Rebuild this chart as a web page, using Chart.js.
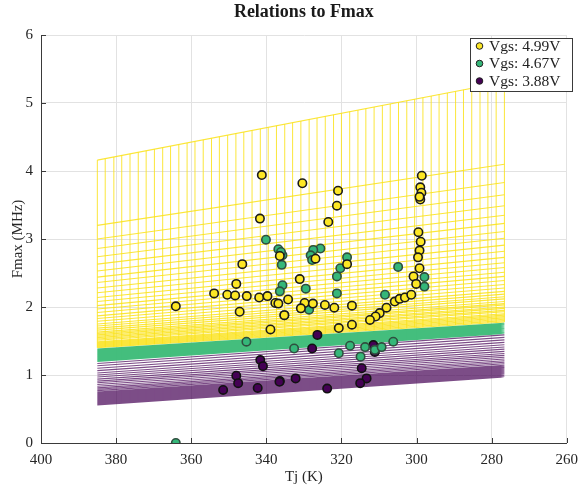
<!DOCTYPE html>
<html>
<head>
<meta charset="utf-8">
<script src="https://cdn.jsdelivr.net/npm/chart.js@4.4.1/dist/chart.umd.min.js"></script>
<style>
  html, body { margin: 0; padding: 0; background: #fff; }
  #wrap { width: 586px; height: 488px; }
</style>
</head>
<body>
<div id="wrap"><canvas id="c" width="586" height="488"></canvas></div>
<script>
// Axis ticks
const xTicks = [400, 380, 360, 340, 320, 300, 280, 260];
const yTicks = [0, 1, 2, 3, 4, 5, 6];

// Mesh columns (Tj, K)
const meshTj = [385.0, 382.9, 380.6, 378.5, 376.3, 374.1, 372.0, 369.8, 367.6, 365.5,
  363.3, 361.1, 359.0, 356.8, 354.6, 352.5, 350.3, 348.1, 346.0, 343.8,
  341.6, 339.5, 337.3, 335.1, 333.0, 330.8, 328.6, 326.5, 324.3, 322.1,
  320.0, 317.8, 315.6, 313.5, 311.3, 309.1, 307.0, 304.8, 302.6, 300.5,
  298.3, 296.1, 294.0, 291.8, 289.6, 287.5, 285.3, 283.1, 281.0, 278.8, 276.6];

// Mesh rows: Fmax (MHz) at the first and last column
const yellowRowStart = [4.16, 3.20, 3.00, 2.86, 2.74, 2.63, 2.53, 2.44, 2.36, 2.28, 2.21, 2.14,
  2.08, 2.02, 1.97, 1.92, 1.87, 1.83, 1.79, 1.75, 1.72, 1.69, 1.66, 1.63, 1.61, 1.59,
  1.57, 1.55, 1.53, 1.51, 1.49, 1.475, 1.46, 1.445, 1.43, 1.415, 1.40];
const yellowRowEnd = [5.31, 4.10, 3.83, 3.65, 3.49, 3.35, 3.23, 3.11, 3.01, 2.91, 2.82, 2.73,
  2.65, 2.58, 2.51, 2.45, 2.39, 2.33, 2.28, 2.23, 2.19, 2.15, 2.12, 2.08, 2.05, 2.03,
  2.00, 1.98, 1.95, 1.93, 1.90, 1.88, 1.86, 1.84, 1.82, 1.80, 1.78];
const greenRowStart = [1.20, 1.21, 1.22, 1.23, 1.24, 1.25, 1.26, 1.27, 1.28, 1.29, 1.30,
  1.31, 1.32, 1.33, 1.34, 1.35, 1.36, 1.37, 1.38];
const greenRowEnd = [1.61, 1.618, 1.627, 1.635, 1.643, 1.652, 1.66, 1.668, 1.677, 1.685, 1.693,
  1.702, 1.71, 1.718, 1.727, 1.735, 1.743, 1.752, 1.76];
const purpleRowStart = [1.17, 1.135, 1.10, 1.065, 1.03, 1.00, 0.97, 0.94, 0.91, 0.885, 0.86,
  0.835, 0.81, 0.79, 0.77, 0.75, 0.735, 0.72, 0.705, 0.69, 0.675, 0.66, 0.648, 0.636,
  0.624, 0.612, 0.60, 0.59, 0.58, 0.57, 0.56];
const purpleRowEnd = [1.59, 1.553, 1.517, 1.48, 1.445, 1.412, 1.38, 1.348, 1.316, 1.288, 1.26,
  1.235, 1.21, 1.188, 1.166, 1.144, 1.128, 1.112, 1.096, 1.08, 1.064, 1.048, 1.036, 1.024,
  1.012, 1.00, 0.99, 0.985, 0.98, 0.975, 0.97];

// Measured points: Vgs = 4.99 V
const tj499 = [341.2, 341.7, 336.4, 346.4, 348.0, 353.9, 350.4, 348.3, 345.2, 341.9, 339.7, 364.1,
  347.1, 337.6, 338.9, 330.4, 320.9, 321.2, 323.5, 298.6, 299.0, 298.7, 299.0, 299.2, 299.5,
  298.9, 299.2, 299.6, 326.9, 318.5, 331.1, 334.2, 329.8, 327.6, 330.8, 324.4, 321.9, 317.2,
  335.2, 336.8, 300.8, 300.1, 299.2, 305.8, 304.5, 303.1, 301.4, 308.0, 309.8, 310.9, 312.4,
  320.7, 317.2];
const f499 = [3.94, 3.30, 2.75, 2.63, 2.34, 2.20, 2.18, 2.17, 2.16, 2.14, 2.16, 2.01,
  1.93, 2.06, 1.67, 3.82, 3.71, 3.49, 3.25, 3.93, 3.76, 3.68, 3.58, 3.62, 3.10,
  2.96, 2.83, 2.73, 2.71, 2.63, 2.41, 2.11, 2.06, 2.05, 1.98, 2.03, 1.99, 2.02,
  1.88, 2.05, 2.45, 2.34, 2.57, 2.08, 2.12, 2.14, 2.18, 1.99, 1.91, 1.86, 1.81,
  1.69, 1.74];

// Measured points: Vgs = 4.67 V
const tj467 = [340.1, 336.8, 335.7, 335.9, 335.7, 336.4, 335.2, 345.3, 325.6, 327.5, 328.2, 318.5,
  336.1, 327.8, 320.3, 321.2, 329.5, 321.2, 328.6, 304.9, 297.9, 297.9, 308.4, 332.6, 320.7,
  317.7, 313.7, 311.1, 309.3, 314.9, 306.2, 364.1];
const f467 = [2.99, 2.85, 2.76, 2.62, 2.32, 2.23, 1.88, 1.49, 2.86, 2.84, 2.76, 2.73,
  2.81, 2.69, 2.57, 2.45, 2.27, 2.20, 1.96, 2.59, 2.44, 2.30, 2.18, 1.39, 1.32,
  1.43, 1.41, 1.37, 1.41, 1.27, 1.49, 0.0];

// Measured points: Vgs = 3.88 V
const tj388 = [341.6, 340.9, 348.0, 347.5, 351.5, 342.3, 336.4, 326.4, 327.8, 311.5, 311.1, 314.6,
  313.3, 315.0, 323.8, 332.2, 336.5];
const f388 = [1.22, 1.13, 0.99, 0.88, 0.78, 0.81, 0.91, 1.59, 1.39, 1.44, 1.34, 1.10,
  0.95, 0.88, 0.80, 0.95, 0.90];

const seriesLabels = ['Vgs: 4.99V', 'Vgs: 4.67V', 'Vgs: 3.88V'];
const seriesColors = ['#FDE725', '#35B779', '#440154'];

const FONT = '"Liberation Serif", "DejaVu Serif", serif';

function lineSet(pts, color, width) {
  return {
    type: 'line', data: pts, showLine: true, spanGaps: false, pointRadius: 0,
    borderColor: color, borderWidth: width, tension: 0, order: 10, mesh: true,
    pointHitRadius: 0
  };
}

// A mesh is drawn as two line datasets: its rows and its columns (nulls split the segments)
function meshDatasets(rowStart, rowEnd, rowColor, colColor) {
  const t0 = meshTj[0], t1 = meshTj[meshTj.length - 1];
  const rows = [];
  for (let i = 0; i < rowStart.length; i++) {
    rows.push({x: t0, y: rowStart[i]}, {x: t1, y: rowEnd[i]}, {x: t1, y: null});
  }
  const rowAt = (i, t) => rowStart[i] + (rowEnd[i] - rowStart[i]) * (t - t0) / (t1 - t0);
  let lo = 0, hi = 0;
  for (let i = 0; i < rowStart.length; i++) {
    if (rowStart[i] < rowStart[lo]) lo = i;
    if (rowStart[i] > rowStart[hi]) hi = i;
  }
  const cols = [];
  meshTj.forEach(t => {
    cols.push({x: t, y: rowAt(lo, t)}, {x: t, y: rowAt(hi, t)}, {x: t, y: null});
  });
  return [lineSet(rows, rowColor, 1.1), lineSet(cols, colColor, 1)];
}

function points(tj, f) { return tj.map((t, i) => ({x: t, y: f[i]})); }

function scatterDataset(k, tj, f, edge) {
  return {
    type: 'scatter', label: seriesLabels[k], data: points(tj, f),
    backgroundColor: seriesColors[k], borderColor: edge, borderWidth: 1.6,
    pointRadius: 4.2, pointHoverRadius: 4.2, order: 1
  };
}

// Inward tick marks on the left and bottom axes
const innerTicks = {
  id: 'innerTicks',
  afterDatasetsDraw(chart) {
    const {ctx, chartArea: a, scales: {x, y}} = chart;
    ctx.save();
    ctx.strokeStyle = '#3a3a3a';
    ctx.lineWidth = 1;
    ctx.beginPath();
    xTicks.forEach(v => {
      const px = Math.round(x.getPixelForValue(v)) + 0.5;
      ctx.moveTo(px, a.bottom); ctx.lineTo(px, a.bottom - 5);
    });
    yTicks.forEach(v => {
      const py = Math.round(y.getPixelForValue(v)) + 0.5;
      ctx.moveTo(a.left, py); ctx.lineTo(a.left + 5, py);
    });
    ctx.stroke();
    ctx.restore();
  }
};

// Boxed legend in the upper right corner of the plot
const boxLegend = {
  id: 'boxLegend',
  afterDraw(chart) {
    const {ctx} = chart;
    const sets = chart.data.datasets.filter(d => !d.mesh);
    const bx = 470.5, by = 38.5, bw = 102, bh = 53;
    ctx.save();
    ctx.fillStyle = '#fff';
    ctx.fillRect(bx, by, bw, bh);
    ctx.strokeStyle = '#3a3a3a';
    ctx.lineWidth = 1;
    ctx.strokeRect(bx, by, bw, bh);
    ctx.font = '15.5px ' + FONT;
    ctx.textBaseline = 'middle';
    ctx.textAlign = 'left';
    sets.forEach((d, i) => {
      const cy = 46 + i * 17.5;
      ctx.beginPath();
      ctx.arc(479.5, cy, 3.3, 0, Math.PI * 2);
      ctx.fillStyle = d.backgroundColor;
      ctx.fill();
      ctx.strokeStyle = '#222';
      ctx.lineWidth = 1;
      ctx.stroke();
      ctx.fillStyle = '#222';
      ctx.fillText(d.label, 489, cy + 0.5);
    });
    ctx.restore();
  }
};

const datasets = [
  scatterDataset(0, tj499, f499, '#1b1b1b'),
  scatterDataset(1, tj467, f467, '#2f4f3f'),
  scatterDataset(2, tj388, f388, '#111111'),
  ...meshDatasets(purpleRowStart, purpleRowEnd, 'rgba(68,1,84,0.7)', 'rgba(255,245,255,0.55)'),
  ...meshDatasets(greenRowStart, greenRowEnd, 'rgba(58,186,118,0.95)', 'rgba(235,255,240,0.4)'),
  ...meshDatasets(yellowRowStart, yellowRowEnd, 'rgba(250,226,25,0.85)', 'rgba(250,226,25,0.85)')
];

new Chart(document.getElementById('c'), {
  type: 'scatter',
  data: {datasets},
  plugins: [innerTicks, boxLegend],
  options: {
    responsive: false,
    animation: false,
    devicePixelRatio: 1,
    layout: {padding: {top: 0, right: 14, left: 0, bottom: 0}},
    plugins: {
      legend: {display: false},
      tooltip: {enabled: false},
      title: {
        display: true, text: 'Relations to Fmax', fullSize: false,
        color: '#1a1a1a', font: {family: FONT, size: 18, weight: 'bold'},
        padding: {top: 2, bottom: 11.4}
      }
    },
    scales: {
      x: {
        type: 'linear', reverse: true, min: 260, max: 400,
        afterBuildTicks: s => { s.ticks = xTicks.map(v => ({value: v})); },
        afterFit: s => { s.height = 45; },
        grid: {color: '#e2e2e2', drawTicks: false},
        border: {display: true, color: '#3a3a3a', width: 1},
        ticks: {color: '#262626', font: {family: FONT, size: 15}, padding: 8},
        title: {display: true, text: 'Tj (K)', color: '#262626',
          font: {family: FONT, size: 15}, padding: {top: 0, bottom: 2}}
      },
      y: {
        type: 'linear', min: 0, max: 6,
        afterBuildTicks: s => { s.ticks = yTicks.map(v => ({value: v})); },
        afterFit: s => { s.width = 41; },
        grid: {color: '#e2e2e2', drawTicks: false},
        border: {display: true, color: '#3a3a3a', width: 1},
        ticks: {color: '#262626', font: {family: FONT, size: 15}, padding: 8},
        title: {display: true, text: 'Fmax (MHz)', color: '#262626',
          font: {family: FONT, size: 15}, padding: {top: 9, bottom: 0}}
      }
    }
  }
});
</script>
</body>
</html>
